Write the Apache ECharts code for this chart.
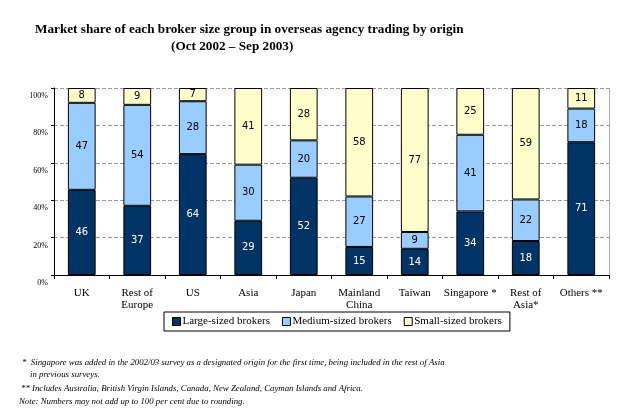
<!DOCTYPE html>
<html>
<head>
<meta charset="utf-8">
<script src="https://cdn.jsdelivr.net/npm/echarts@6/dist/echarts.min.js"></script>
<style>html,body{margin:0;padding:0;background:#fff;}#c{width:636px;height:419px;}</style>
</head>
<body>
<div id="c"></div>
<script>
var categories = ['UK', 'Rest of\nEurope', 'US', 'Asia', 'Japan', 'Mainland\nChina', 'Taiwan', 'Singapore *', 'Rest of\nAsia*', 'Others **'];
var large = [46, 37, 64, 29, 52, 15, 14, 34, 18, 71];
var medium = [47, 54, 28, 30, 20, 27, 9, 41, 22, 18];
var small = [8, 9, 7, 41, 28, 58, 77, 25, 59, 11];
var seriesNames = ['Large-sized brokers', 'Medium-sized brokers', 'Small-sized brokers'];
var yTicks = ['0%', '20%', '40%', '60%', '80%', '100%'];

var raw = [large, medium, small];
var totals = large.map(function (v, i) { return large[i] + medium[i] + small[i]; });
var colors = ['#003366', '#99ccff', '#ffffcc'];
var labelColors = ['#ffffff', '#000000', '#000000'];

var series = raw.map(function (arr, s) {
  return {
    name: seriesNames[s],
    type: 'bar',
    stack: 'total',
    barWidth: '50%',
    data: arr.map(function (v, i) { return { value: v / totals[i] * 100, raw: v }; }),
    itemStyle: { color: colors[s], borderColor: '#000', borderWidth: 1 },
    label: {
      show: true,
      position: 'inside',
      color: labelColors[s],
      fontFamily: 'DejaVu Sans',
      fontSize: 10,
      formatter: function (p) { return p.data.raw; }
    }
  };
});

var titleFont = 'bold 13.2px "Liberation Serif"';
var noteFont = 'italic 8.8px "Liberation Serif"';

var chart = echarts.init(document.getElementById('c'));
chart.setOption({
  animation: false,
  grid: { left: 54, right: 27, top: 88, bottom: 144 },
  legend: {
    left: 164, top: 312, width: 338,
    padding: [4, 8, 4, 8],
    itemGap: 12,
    itemWidth: 8, itemHeight: 8,
    borderColor: '#000', borderWidth: 1,
    icon: 'rect',
    itemStyle: { borderColor: '#000', borderWidth: 1 },
    textStyle: { fontFamily: 'Liberation Serif', fontSize: 11, color: '#000', padding: [0, 0, 0, -3] },
    data: seriesNames
  },
  xAxis: {
    type: 'category',
    data: categories,
    axisLine: { lineStyle: { color: '#000', width: 1 } },
    axisTick: { show: true, length: 4, lineStyle: { color: '#000' } },
    axisLabel: { fontFamily: 'Liberation Serif', fontSize: 11, color: '#000', lineHeight: 12, margin: 12, interval: 0 }
  },
  yAxis: {
    type: 'value',
    min: 0, max: 100, interval: 20,
    axisLine: { show: true, lineStyle: { color: '#000' } },
    axisTick: { show: true, length: 3, lineStyle: { color: '#000' } },
    axisLabel: {
      fontFamily: 'Liberation Serif', fontSize: 8, color: '#000', margin: 6,
      verticalAlign: 'top', padding: [4, 0, 0, 0],
      formatter: function (v) { return yTicks[v / 20]; }
    },
    splitLine: { show: true, lineStyle: { color: '#999', type: 'dashed' } }
  },
  graphic: [
    { type: 'line', shape: { x1: 609.5, y1: 88, x2: 609.5, y2: 275 }, style: { stroke: '#aaa', lineWidth: 1 } },
    { type: 'text', left: 35, top: 23, style: { text: 'Market share of each broker size group in overseas agency trading by origin', font: titleFont, fill: '#000' } },
    { type: 'text', left: 171, top: 40, style: { text: '(Oct 2002 \u2013 Sep 2003)', font: titleFont, fill: '#000' } },
    { type: 'text', left: 22, top: 358, style: { text: '*  Singapore was added in the 2002/03 survey as a designated origin for the first time, being included in the rest of Asia', font: noteFont, fill: '#000' } },
    { type: 'text', left: 30, top: 370, style: { text: 'in previous surveys.', font: noteFont, fill: '#000' } },
    { type: 'text', left: 21, top: 384, style: { text: '** Includes Australia, British Virgin Islands, Canada, New Zealand, Cayman Islands and Africa.', font: noteFont, fill: '#000' } },
    { type: 'text', left: 19, top: 397, style: { text: 'Note: Numbers may not add up to 100 per cent due to rounding.', font: noteFont, fill: '#000' } }
  ],
  series: series
});
</script>
</body>
</html>
